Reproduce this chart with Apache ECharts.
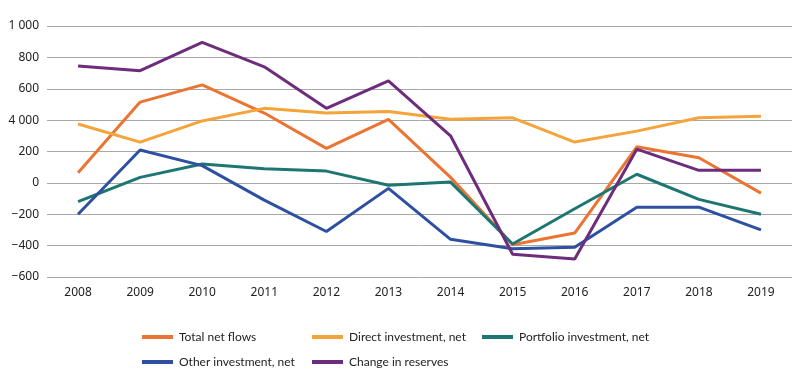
<!DOCTYPE html>
<html><head><meta charset="utf-8">
<script src="https://cdn.jsdelivr.net/npm/echarts@6/dist/echarts.min.js"></script>
<style>html,body{margin:0;padding:0;background:#fff}#c{width:797px;height:377px}</style>
</head><body><div id="c"></div>
<script>
const years = ['2008','2009','2010','2011','2012','2013','2014','2015','2016','2017','2018','2019'];
const totalNetFlows = [65, 515, 625, 445, 220, 405, 35, -395, -320, 230, 160, -65];
const directInvestment = [375, 260, 395, 475, 445, 455, 405, 415, 260, 330, 415, 425];
const portfolioInvestment = [-120, 35, 120, 90, 75, -15, 5, -390, -165, 55, -105, -200];
const otherInvestment = [-200, 210, 110, -110, -310, -35, -360, -420, -410, -155, -155, -300];
const changeInReserves = [745, 715, 895, 740, 475, 650, 300, -455, -485, 215, 80, 80];
const yTickValues = [-600, -400, -200, 0, 200, 400, 600, 800, 1000];
const yTickLabels = ['\u2212600', '\u2212400', '\u2212200', '0', '200', '4 000', '600', '800', '1 000'];

const names = ['Total net flows', 'Direct investment, net', 'Portfolio investment, net', 'Other investment, net', 'Change in reserves'];
const colors = ['#EC7433', '#F4A43A', '#1E7673', '#2D50A0', '#6E2D7C'];
const data = [totalNetFlows, directInvestment, portfolioInvestment, otherInvestment, changeInReserves];
const legendPos = [[142, 331], [312, 331], [482, 331], [142, 356], [312, 356]];
const font = 'Noto Sans';

const chart = echarts.init(document.getElementById('c'), null, {renderer: 'canvas'});
chart.setOption({
  animation: false,
  textStyle: {fontFamily: font},
  grid: {left: 47, right: 5, top: 26, bottom: 100},
  legend: names.map((n, i) => ({
    data: [n], left: legendPos[i][0], top: legendPos[i][1],
    icon: 'rect', itemWidth: 31, itemHeight: 4, itemGap: 0,
    textStyle: {fontFamily: 'Lato', fontSize: 12, color: '#222', padding: [0, 0, 0, 1]},
    padding: 0
  })),
  xAxis: {
    type: 'category', data: years, boundaryGap: true,
    axisLine: {show: false}, axisTick: {show: false},
    axisLabel: {fontFamily: font, fontSize: 12, color: '#222', margin: 10}
  },
  yAxis: {
    type: 'value', min: -600, max: 1000, interval: 200,
    axisLine: {show: false}, axisTick: {show: false},
    splitLine: {lineStyle: {color: '#a8a8a8', width: 1}},
    axisLabel: {
      fontFamily: font, fontSize: 12, color: '#222', margin: 8,
      formatter: v => { const i = yTickValues.indexOf(v); return i >= 0 ? yTickLabels[i] : ''; }
    }
  },
  series: names.map((n, i) => ({
    name: n, type: 'line', data: data[i], symbol: 'none',
    lineStyle: {color: colors[i], width: 3}, itemStyle: {color: colors[i]}
  }))
});
</script></body></html>
